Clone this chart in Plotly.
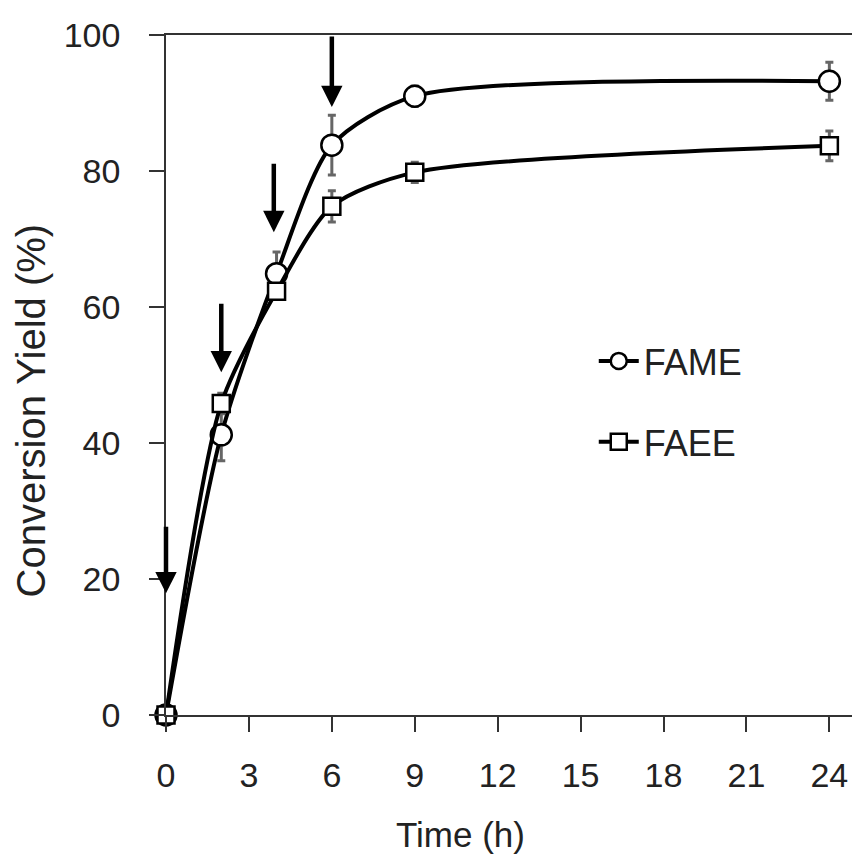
import plotly.graph_objects as go

time_h = [0, 2, 4, 6, 9, 24]
fame = [0, 41.2, 64.9, 83.8, 91.0, 93.2]
fame_err = [0, 3.8, 3.2, 4.4, 1.5, 2.8]
faee = [0, 45.8, 62.3, 74.8, 79.8, 83.7]
faee_err = [0, 1.5, 1.0, 2.3, 1.5, 2.2]

arrow_x = [0, 2, 3.9, 6]
arrow_tip = [17.9, 50.4, 71.0, 89.4]
arrow_tail = [27.9, 60.7, 81.3, 100.0]

x_ticks = [0, 3, 6, 9, 12, 15, 18, 21, 24]
y_ticks = [0, 20, 40, 60, 80, 100]

FONT = "Liberation Sans, Arial, sans-serif"
OFF = 8  # page body margin
W = H = 860 - OFF
L, T = 166 - OFF, 35 - OFF
R = W - (859 - OFF)
B = H - (715 - OFF)
pw, ph = W - L - R, H - T - B


def px_to_paper(xw, yw):
    return ((xw - OFF) - L) / pw, (H - B - (yw - OFF)) / ph


fig = go.Figure()
fig.add_trace(go.Scatter(
    x=time_h, y=fame, name="FAME", mode="lines+markers",
    line=dict(color="black", width=4, shape="spline", smoothing=0.75),
    marker=dict(symbol="circle", size=21, color="white", line=dict(color="black", width=2.5)),
    error_y=dict(type="data", array=fame_err, color="#666666", thickness=3, width=4),
    cliponaxis=False, legendgroup="a",
))
fig.add_trace(go.Scatter(
    x=time_h, y=faee, name="FAEE", mode="lines+markers",
    line=dict(color="black", width=4, shape="spline", smoothing=0.75),
    marker=dict(symbol="square", size=17, color="white", line=dict(color="black", width=2.5)),
    error_y=dict(type="data", array=faee_err, color="#666666", thickness=3, width=4),
    cliponaxis=False, legendgroup="b",
))

for xa, tip, tail in zip(arrow_x, arrow_tip, arrow_tail):
    fig.add_annotation(x=xa, y=tip, ax=xa, ay=tail, xref="x", yref="y", axref="x", ayref="y",
                       text="", showarrow=True, arrowhead=2, arrowsize=0.95, arrowwidth=4.5,
                       arrowcolor="black", standoff=0)

tx, ty = px_to_paper(461, 834)
fig.add_annotation(text="Time (h)", x=tx, y=ty, xref="paper", yref="paper",
                   xanchor="center", yanchor="middle", showarrow=False,
                   font=dict(family=FONT, size=35, color="#222"))
yx, yy = px_to_paper(31, 410)
fig.add_annotation(text="Conversion Yield (%)", textangle=-90, showarrow=False,
                   font=dict(family=FONT, size=40, color="#222"),
                   x=yx, y=yy, xref="paper", yref="paper", xanchor="center", yanchor="middle")

lx, ly = px_to_paper(595, 331)

fig.update_layout(
    width=W, height=H, margin=dict(l=L, r=R, t=T, b=B),
    paper_bgcolor="white", plot_bgcolor="white",
    font=dict(family=FONT, size=34, color="#222"),
    showlegend=True,
    legend=dict(x=lx, y=ly, xanchor="left", yanchor="top",
                font=dict(family=FONT, size=36, color="#222"), tracegroupgap=31,
                bgcolor="rgba(0,0,0,0)", itemwidth=40),
    xaxis=dict(range=[0, 25], tickvals=x_ticks, ticks="outside", ticklen=15, tickwidth=1.5,
               tickcolor="#333", showline=True, linecolor="#333", linewidth=1.5, mirror=True,
               showgrid=False, zeroline=False, ticklabelstandoff=14,
               tickfont=dict(family=FONT, size=34, color="#222")),
    yaxis=dict(range=[0, 100], tickvals=y_ticks, ticks="outside", ticklen=15, tickwidth=1.5,
               tickcolor="#333", showline=True, linecolor="#333", linewidth=1.5, mirror=True,
               showgrid=False, zeroline=False, ticklabelstandoff=22,
               tickfont=dict(family=FONT, size=34, color="#222")),
)

fig.write_html("out.html")
